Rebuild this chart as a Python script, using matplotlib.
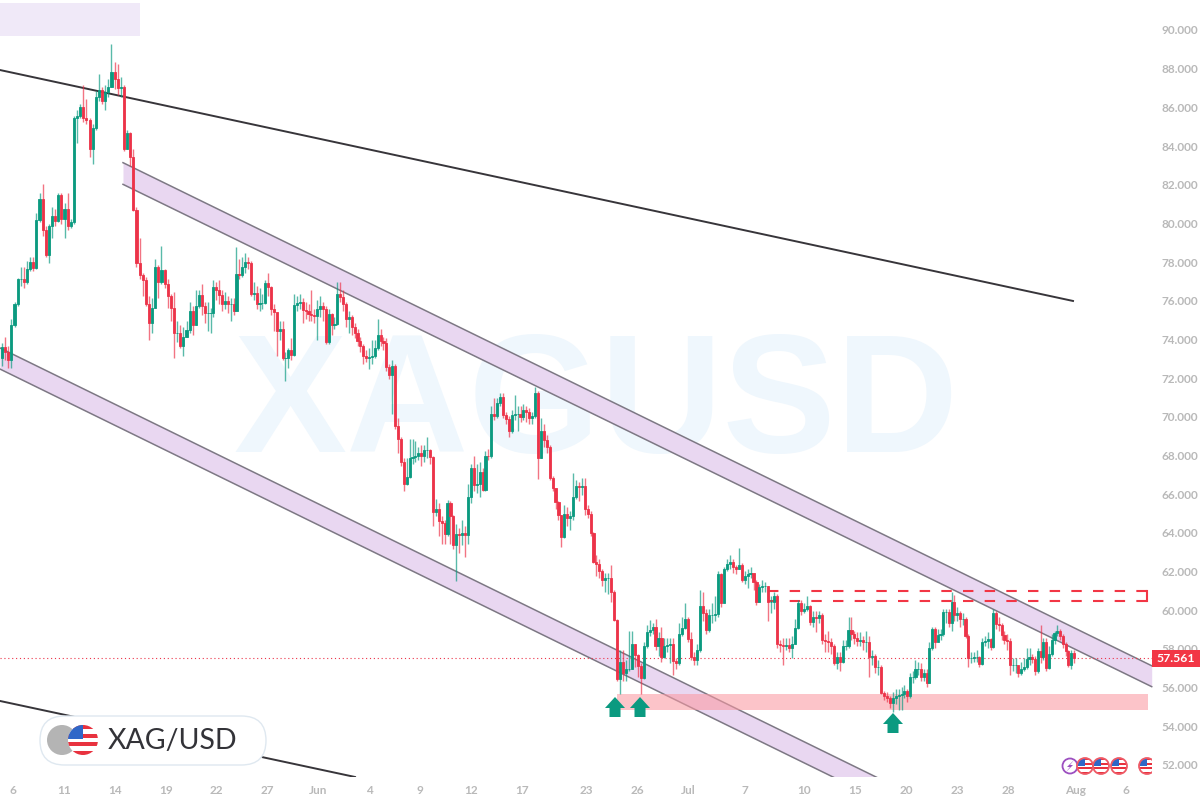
import matplotlib
matplotlib.use("Agg")
import matplotlib.pyplot as plt
import numpy as np
from matplotlib.patches import Circle, FancyBboxPatch, Polygon, Rectangle

# candles (prices)
closes = [
    73.67, 73.4, 73.0, 74.8, 75.9, 77.2, 77.2, 77.0, 77.7, 78.05,
    77.75, 80.25, 81.3, 79.7, 78.4, 79.9, 80.45, 80.2, 81.5, 80.3,
    80.8, 79.9, 80.1, 85.5, 85.6, 86.05, 85.5, 85.4, 83.9, 85.0,
    86.6, 86.95, 86.4, 86.85, 87.1, 87.9, 87.5, 87.05, 87.1, 83.9,
    84.7, 83.5, 80.75, 78.0, 77.4, 77.1, 75.9, 74.9, 75.7, 77.8,
    77.0, 77.65, 76.9, 76.3, 75.7, 74.4, 74.4, 73.7, 74.2, 74.55,
    75.5, 74.8, 75.8, 76.35, 75.8, 75.4, 75.4, 75.4, 76.75, 76.6,
    76.35, 75.9, 76.05, 75.9, 75.9, 75.5, 77.45, 77.4, 77.8, 78.05,
    78.0, 76.4, 76.45, 75.9, 75.95, 75.95, 76.95, 76.75, 75.6, 75.45,
    74.5, 74.6, 73.1, 73.1, 73.5, 73.25, 75.85, 75.95, 76.0, 75.55,
    75.5, 75.35, 75.3, 75.25, 75.65, 75.8, 75.6, 73.9, 75.35, 74.8,
    74.85, 76.4, 76.25, 75.9, 75.1, 75.2, 74.7, 74.4, 73.95, 73.7,
    73.2, 73.1, 73.15, 73.2, 73.6, 74.3, 73.95, 73.85, 72.65, 72.2,
    72.7, 69.6, 68.9, 67.7, 66.6, 66.95, 67.9, 67.95, 68.05, 68.2,
    68.0, 68.35, 68.35, 67.95, 65.15, 65.3, 64.65, 64.55, 64.0, 65.6,
    64.9, 63.4, 64.0, 63.95, 64.05, 63.95, 65.9, 67.4, 66.5, 66.6,
    67.2, 66.25, 68.05, 68.0, 70.2, 70.1, 70.75, 71.05, 70.15, 69.95,
    69.3, 70.15, 70.2, 70.2, 70.05, 70.4, 70.3, 70.0, 70.1, 71.3,
    67.9, 69.3, 68.85, 68.5, 66.9, 66.35, 65.65, 64.95, 63.85, 65.05,
    64.8, 64.9, 65.9, 66.45, 66.4, 66.45, 65.3, 65.05, 64.05, 62.55,
    62.45, 62.1, 61.6, 61.7, 61.7, 61.0, 59.55, 56.5, 57.4, 56.8,
    57.0, 57.0, 58.3, 57.75, 57.15, 56.55, 58.2, 58.95, 59.05, 59.2,
    58.2, 58.6, 57.65, 58.2, 58.25, 58.3, 57.45, 57.3, 58.8, 59.15,
    59.6, 58.55, 57.65, 57.5, 58.0, 60.25, 59.9, 59.05, 59.8, 59.8,
    59.85, 61.9, 60.4, 62.2, 62.45, 62.55, 62.3, 62.2, 62.4, 61.6,
    61.8, 61.9, 62.0, 61.5, 60.5, 61.25, 61.3, 61.3, 60.5, 60.5,
    60.8, 58.3, 58.25, 58.2, 58.25, 58.1, 58.3, 59.15, 60.4, 60.0,
    60.1, 60.25, 59.45, 59.7, 59.65, 59.8, 58.5, 58.45, 58.4, 58.2,
    57.3, 57.65, 57.35, 58.2, 58.2, 59.05, 58.8, 58.6, 58.45, 58.5,
    58.4, 58.4, 57.65, 57.7, 57.1, 57.1, 55.75, 55.6, 55.5, 55.25,
    55.5, 55.6, 55.65, 55.7, 55.85, 55.6, 56.6, 56.6, 57.0, 57.0,
    56.6, 56.8, 56.3, 58.1, 59.1, 58.4, 58.75, 58.8, 59.95, 59.95,
    59.4, 60.5, 59.8, 59.9, 59.6, 59.6, 58.7, 57.6, 57.6, 57.65,
    57.65, 57.25, 58.4, 58.45, 58.55, 58.15, 59.9, 59.35, 59.3, 58.75,
    58.5, 58.45, 57.2, 57.2, 57.2, 56.8, 57.0, 57.1, 57.55, 57.65,
    57.55, 56.9, 57.95, 57.65, 58.4, 57.05, 57.8, 58.5, 58.85, 59.0,
    58.7, 58.3, 57.95, 57.2, 57.85, 57.561,
]
highs = [
    73.85, 74.2, 73.7, 75.1, 76.0, 77.25, 77.8, 77.8, 78.1, 78.3,
    78.3, 80.6, 81.6, 82.1, 79.9, 80.0, 80.9, 80.8, 81.6, 81.6,
    81.1, 81.6, 80.3, 85.6, 85.9, 86.2, 87.2, 86.5, 85.5, 85.2,
    86.9, 87.75, 87.1, 87.2, 87.5, 89.3, 88.4, 88.3, 87.6, 87.2,
    84.9, 84.8, 83.9, 80.9, 79.3, 77.5, 77.3, 76.3, 76.2, 78.2,
    77.9, 78.9, 77.7, 77.2, 76.4, 76.5, 75.0, 74.8, 74.7, 75.0,
    76.0, 75.8, 76.6, 76.6, 76.9, 76.0, 76.0, 75.7, 77.1, 77.0,
    77.1, 76.6, 76.5, 76.3, 76.2, 76.2, 78.85, 78.2, 78.3, 78.5,
    78.3, 78.1, 77.0, 76.8, 76.7, 76.4, 77.1, 77.5, 76.8, 75.9,
    75.2, 75.0, 75.0, 73.4, 73.6, 74.1, 76.4, 76.3, 76.4, 76.2,
    76.0, 75.9, 76.6, 75.6, 76.1, 76.3, 76.0, 75.8, 75.6, 75.4,
    75.2, 77.0, 77.0, 76.6, 76.0, 75.5, 75.3, 74.9, 74.6, 74.2,
    73.8, 73.5, 73.6, 74.0, 74.0, 75.1, 74.6, 74.2, 74.1, 72.8,
    73.0, 72.8, 70.0, 69.0, 67.9, 67.9, 68.9, 68.9, 68.8, 68.5,
    68.6, 68.6, 69.0, 68.4, 68.0, 65.8, 65.6, 64.9, 64.7, 65.75,
    65.7, 65.0, 64.5, 64.3, 64.7, 64.4, 66.6, 67.6, 68.0, 67.6,
    67.7, 67.4, 68.3, 68.4, 70.6, 71.0, 71.0, 71.3, 71.3, 70.3,
    70.1, 70.4, 71.2, 70.6, 70.6, 70.7, 70.6, 70.5, 70.3, 71.6,
    71.4, 70.0, 69.7, 69.1, 68.6, 67.0, 66.2, 65.7, 65.0, 65.5,
    65.4, 65.2, 67.15, 66.8, 66.7, 66.9, 66.9, 65.5, 65.2, 64.1,
    62.9, 62.7, 62.2, 62.0, 62.0, 62.4, 61.1, 59.6, 58.0, 58.0,
    57.5, 59.0, 59.0, 58.3, 57.8, 57.3, 58.4, 59.3, 59.55, 59.4,
    59.6, 58.9, 59.2, 58.6, 58.6, 58.6, 58.6, 57.6, 59.4, 59.7,
    60.45, 59.7, 58.9, 57.9, 58.3, 61.1, 61.0, 60.1, 60.1, 60.4,
    60.8, 62.1, 62.0, 62.3, 62.7, 62.9, 62.7, 62.4, 63.25, 62.5,
    62.1, 62.2, 62.3, 62.0, 61.6, 61.4, 61.6, 61.5, 61.3, 60.8,
    61.0, 60.9, 58.5, 58.6, 58.6, 58.6, 58.7, 59.6, 60.6, 60.6,
    60.4, 60.8, 60.3, 60.0, 60.0, 60.0, 59.9, 58.8, 59.0, 58.6,
    58.3, 57.9, 57.9, 58.5, 58.5, 59.7, 59.7, 59.0, 58.9, 58.9,
    58.7, 59.0, 58.7, 58.0, 57.8, 57.5, 57.2, 55.9, 55.8, 55.6,
    55.8, 56.0, 56.0, 56.1, 56.2, 56.0, 56.8, 56.9, 57.5, 57.4,
    57.3, 57.0, 57.0, 58.4, 59.2, 59.2, 59.1, 59.1, 60.1, 60.1,
    60.1, 61.0, 60.85, 60.2, 60.0, 59.9, 59.7, 58.8, 57.9, 57.9,
    58.0, 57.7, 58.6, 58.7, 58.9, 58.6, 60.1, 60.0, 59.7, 59.4,
    59.0, 58.8, 58.6, 57.6, 57.6, 57.1, 57.4, 57.6, 58.1, 58.1,
    57.8, 57.7, 58.1, 59.3, 58.6, 58.6, 58.2, 58.8, 59.0, 59.3,
    59.1, 58.8, 58.4, 58.0, 58.0, 58.0,
]
lows = [
    72.7, 73.0, 72.6, 72.6, 74.7, 75.8, 76.8, 76.7, 76.9, 77.6,
    77.6, 77.7, 80.1, 79.4, 78.3, 78.0, 79.3, 79.9, 80.1, 80.0,
    79.3, 79.7, 79.8, 80.0, 84.2, 85.5, 85.3, 85.2, 83.5, 83.1,
    84.9, 86.4, 86.2, 85.9, 86.6, 87.1, 87.0, 86.7, 86.6, 83.8,
    83.9, 83.0, 80.7, 77.8, 77.2, 76.3, 75.8, 74.0, 74.4, 75.7,
    76.2, 76.9, 76.7, 75.7, 75.0, 73.1, 73.9, 73.6, 73.2, 74.2,
    74.4, 74.3, 74.8, 75.7, 75.3, 74.9, 74.5, 74.4, 75.2, 76.1,
    75.9, 75.5, 75.6, 75.4, 75.0, 75.3, 75.5, 77.2, 77.3, 77.5,
    77.7, 76.3, 76.1, 75.6, 75.5, 75.6, 75.9, 76.3, 75.3, 74.5,
    73.2, 74.0, 73.0, 71.9, 72.6, 73.0, 73.2, 75.5, 75.6, 74.9,
    75.1, 75.0, 75.0, 74.9, 74.0, 75.2, 75.0, 73.8, 73.8, 74.3,
    74.6, 74.8, 76.0, 75.5, 74.7, 74.4, 74.3, 74.1, 73.7, 73.4,
    72.8, 72.9, 72.5, 72.8, 73.1, 73.5, 73.7, 73.5, 72.4, 72.0,
    70.2, 69.4, 68.2, 67.5, 66.2, 66.5, 66.9, 67.6, 67.7, 67.8,
    67.5, 67.7, 67.9, 67.6, 64.4, 64.9, 63.9, 63.5, 63.5, 63.9,
    63.5, 63.2, 61.55, 63.0, 63.4, 62.8, 63.5, 65.6, 66.2, 66.1,
    65.9, 66.2, 66.2, 67.8, 67.9, 69.9, 70.0, 70.6, 70.0, 69.7,
    69.0, 69.2, 69.9, 69.3, 69.8, 69.9, 69.8, 69.7, 69.7, 70.0,
    66.85, 67.9, 68.5, 68.2, 66.8, 66.2, 65.3, 64.7, 63.3, 63.8,
    64.4, 64.2, 64.7, 65.8, 65.7, 66.0, 65.0, 64.8, 63.9, 62.5,
    61.8, 61.7, 61.3, 61.0, 60.9, 60.5, 59.5, 56.4, 55.7, 56.4,
    56.4, 56.9, 57.0, 57.1, 56.6, 55.7, 56.5, 58.1, 58.7, 58.8,
    58.0, 57.7, 57.4, 57.6, 57.9, 57.3, 56.7, 57.0, 57.2, 58.7,
    59.1, 58.4, 57.5, 57.2, 57.2, 57.9, 59.5, 58.8, 58.9, 59.4,
    59.5, 59.7, 60.2, 60.5, 62.1, 62.2, 62.0, 61.9, 62.2, 61.5,
    61.4, 61.2, 61.7, 61.1, 60.3, 60.5, 61.0, 61.0, 59.5, 59.9,
    60.1, 58.1, 57.9, 57.2, 58.0, 57.9, 57.6, 58.3, 59.1, 59.8,
    59.9, 60.0, 59.3, 59.2, 58.9, 59.4, 58.3, 57.9, 57.9, 57.8,
    57.2, 57.0, 56.9, 57.3, 58.0, 58.1, 58.5, 58.3, 58.2, 58.2,
    58.0, 57.9, 56.6, 57.2, 56.8, 56.7, 55.7, 55.4, 55.3, 55.0,
    54.8, 55.2, 54.9, 54.9, 55.5, 55.3, 55.5, 56.3, 56.5, 56.7,
    56.4, 56.4, 56.1, 56.3, 58.0, 58.1, 58.5, 58.5, 58.7, 59.4,
    59.2, 59.0, 59.5, 59.5, 59.2, 59.3, 58.6, 57.1, 57.3, 57.4,
    57.4, 57.1, 57.2, 58.2, 58.1, 58.0, 58.1, 59.1, 59.0, 58.5,
    58.3, 58.0, 56.7, 56.9, 56.8, 56.6, 56.7, 56.9, 57.0, 57.2,
    57.3, 56.7, 56.8, 57.3, 57.5, 56.9, 57.0, 57.7, 58.3, 58.7,
    58.5, 58.1, 57.7, 57.1, 57.0, 57.3,
]
first_open = 73.07
last_price = 57.561

# x axis is in slots of 3 px. my candle count runs a bit uneven so pin it at a few spots
anchor_bars = [0, 63, 131, 205, 301, 365]
anchor_slots = [0, 65.67, 131, 203, 298, 357.33]

y_ticks = list(range(90, 50, -2))
x_tick_labels = ["6", "11", "14", "19", "22", "27", "Jun", "4", "9", "12", "17",
                 "23", "26", "Jul", "7", "10", "15", "20", "23", "28", "Aug", "6"]
x_tick_slots = [3.67, 20.67, 37.67, 54.67, 71.33, 88.33, 105.33, 122.33, 139.33, 156.33, 173.33,
                194.67, 211.67, 228.67, 247.67, 267.33, 284.33, 301.33, 318.33, 335.33, 357.67, 374.67]

# drawn levels and trendlines (slot, price)
upper_trend_x, upper_trend_y = [-0.67, 357], [87.98, 76.04]
lower_trend_x, lower_trend_y = [-0.67, 117.67], [55.36, 51.43]
chan_up_x = [40.33, 383.23]
chan_up_top, chan_up_bot = [83.19, 57.18], [82.07, 56.10]
chan_low_x = [-0.67, 307]
chan_low_top, chan_low_bot = [73.61, 50.24], [72.52, 49.15]
zone_x, zone_y = [205, 381.9], [54.9, 55.72]
dash_x, dash_y = [255.3, 381.6], [60.51, 61.06]

GREEN = "#0b9a80"
RED = "#ec3349"
GRAY = "#b9b9b9"
BAND = "#e9d7f1"
EDGE = "#7d7884"

plt.rcParams["font.family"] = ["Lato", "DejaVu Sans"]

fig = plt.figure(figsize=(12, 8), dpi=100)
ax = fig.add_axes([0, 0, 1, 1])
ax.set_xlim(-0.667, 399.33)
ax.set_ylim(50.24, 91.6)
ax.axis("off")

ax.text(198, 70.5, "XAGUSD", family="Liberation Sans", fontweight="bold", fontsize=122,
        color="#eff7fd", ha="center", va="center", zorder=0)

# channels and zones
xs = np.array(chan_up_x)
ax.fill_between(xs, chan_up_bot, chan_up_top, color=BAND, lw=0, zorder=1)
ax.plot(xs, chan_up_top, color=EDGE, lw=1.1, zorder=1.5)
ax.plot(xs, chan_up_bot, color=EDGE, lw=1.1, zorder=1.5)
xs = np.array(chan_low_x)
ax.fill_between(xs, chan_low_bot, chan_low_top, color=BAND, lw=0, zorder=1)
ax.plot(xs, chan_low_top, color=EDGE, lw=1.1, zorder=1.5)
ax.plot(xs, chan_low_bot, color=EDGE, lw=1.1, zorder=1.5)

ax.fill_between(zone_x, zone_y[0], zone_y[1], color="#fb9aa3", alpha=0.58, lw=0, zorder=1.6)

ax.plot(upper_trend_x, upper_trend_y, color="#37353a", lw=1.4, zorder=2)
ax.plot(lower_trend_x, lower_trend_y, color="#37353a", lw=1.4, zorder=2)

dash_style = (0, (5.0, 5.4))
for level in dash_y:
    ax.plot(dash_x, [level, level], color="#f23645", lw=1.5, ls=dash_style, zorder=2)
ax.plot([dash_x[1], dash_x[1]], dash_y, color="#f23645", lw=1.5, zorder=2)

ax.axhline(last_price, color=RED, lw=0.8, ls=(0, (1, 2.5)), zorder=2)

# candles
closes = np.array(closes)
highs = np.array(highs)
lows = np.array(lows)
opens = np.r_[first_open, closes[:-1]]
x = np.interp(np.arange(len(closes)), anchor_bars, anchor_slots)
up = closes >= opens
colors = np.where(up, GREEN, RED)

ax.vlines(x, lows, highs, colors=colors, lw=1.0, alpha=0.68, zorder=3)
ax.bar(x, np.abs(closes - opens), bottom=np.minimum(opens, closes), width=0.7,
       color=colors, edgecolor=colors, lw=0.6, zorder=3.5)

# bottom strip and tick labels
ax.axhspan(50.24, 51.43, color="white", lw=0, zorder=5)
for s, lab in zip(x_tick_slots, x_tick_labels):
    ax.text(s, 50.75, lab, color=GRAY, fontsize=8.5, fontweight="bold", ha="center", va="center", zorder=6)
for p in y_ticks:
    ax.text(392.7, p, f"{p:.3f}", color=GRAY, fontsize=8.5, fontweight="bold", ha="center", va="center", zorder=6)

# overlay in pixels for the branding bits
ov = fig.add_axes([0, 0, 1, 1])
ov.set_xlim(0, 1200)
ov.set_ylim(800, 0)
ov.axis("off")
ov.patch.set_alpha(0)

ov.add_patch(Rectangle((0, 3), 140, 33, color="#f0e9f8", lw=0))

# current price tag
ov.add_patch(Rectangle((1152, 650), 48, 17, color="#f23645", lw=0))
ov.text(1176, 658.5, f"{last_price:.3f}", color="white", fontsize=8.8, fontweight="bold", ha="center", va="center")

# arrows
for ax_px, top in zip([615, 640, 893], [697, 697, 713]):
    ov.add_patch(Polygon([(ax_px, top), (ax_px + 10, top + 11), (ax_px + 5.5, top + 11), (ax_px + 5.5, top + 20),
                          (ax_px - 5.5, top + 20), (ax_px - 5.5, top + 11), (ax_px - 10, top + 11)],
                         color=GREEN, lw=0, zorder=8))


def flag(cx, cy, r, ring=None):
    clip = Circle((cx, cy), r, transform=ov.transData)
    ov.add_patch(Circle((cx, cy), r, color="white", lw=0, zorder=9))
    for k in range(0, 7, 2):
        st = ov.add_patch(Rectangle((cx - r, cy - r + k * 2 * r / 7), 2 * r, 2 * r / 7, color="#e8323f", lw=0, zorder=9.1))
        st.set_clip_path(clip)
    can = ov.add_patch(Rectangle((cx - r, cy - r), r, r * 0.95, color="#2f67c8", lw=0, zorder=9.2))
    can.set_clip_path(clip)
    if ring:
        ov.add_patch(Circle((cx, cy), r, fill=False, ec=ring, lw=1.3, zorder=9.3))


# pair badge
ov.add_patch(FancyBboxPatch((40, 716), 226, 49, boxstyle="round,pad=0,rounding_size=24.5",
                            fc="white", ec="#dfe8f0", lw=1, zorder=8))
ov.add_patch(Circle((62, 740), 15, color="#b4b4b4", lw=0, zorder=9))
flag(83, 740, 15)
ov.text(108, 741, "XAG/USD", color="#333338", fontsize=20.5, ha="left", va="center", zorder=10)

# calendar icons bottom right
ov.add_patch(Circle((1070, 766), 7.5, fc="white", ec="#9c4fc0", lw=1.3, zorder=9))
ov.add_patch(Polygon([(1074, 760), (1067, 767), (1070, 767), (1066, 772), (1073, 765), (1070, 765)],
                     color="#9c4fc0", lw=0, zorder=10))
for cx in [1085, 1101, 1119]:
    flag(cx, 766, 8, ring="#ee5a66")
flag(1147, 766, 8, ring="#ee5a66")
ov.add_patch(Rectangle((1151.5, 755), 5, 22, color="white", lw=0, zorder=9.5))

fig.savefig("out.png", dpi=100)
